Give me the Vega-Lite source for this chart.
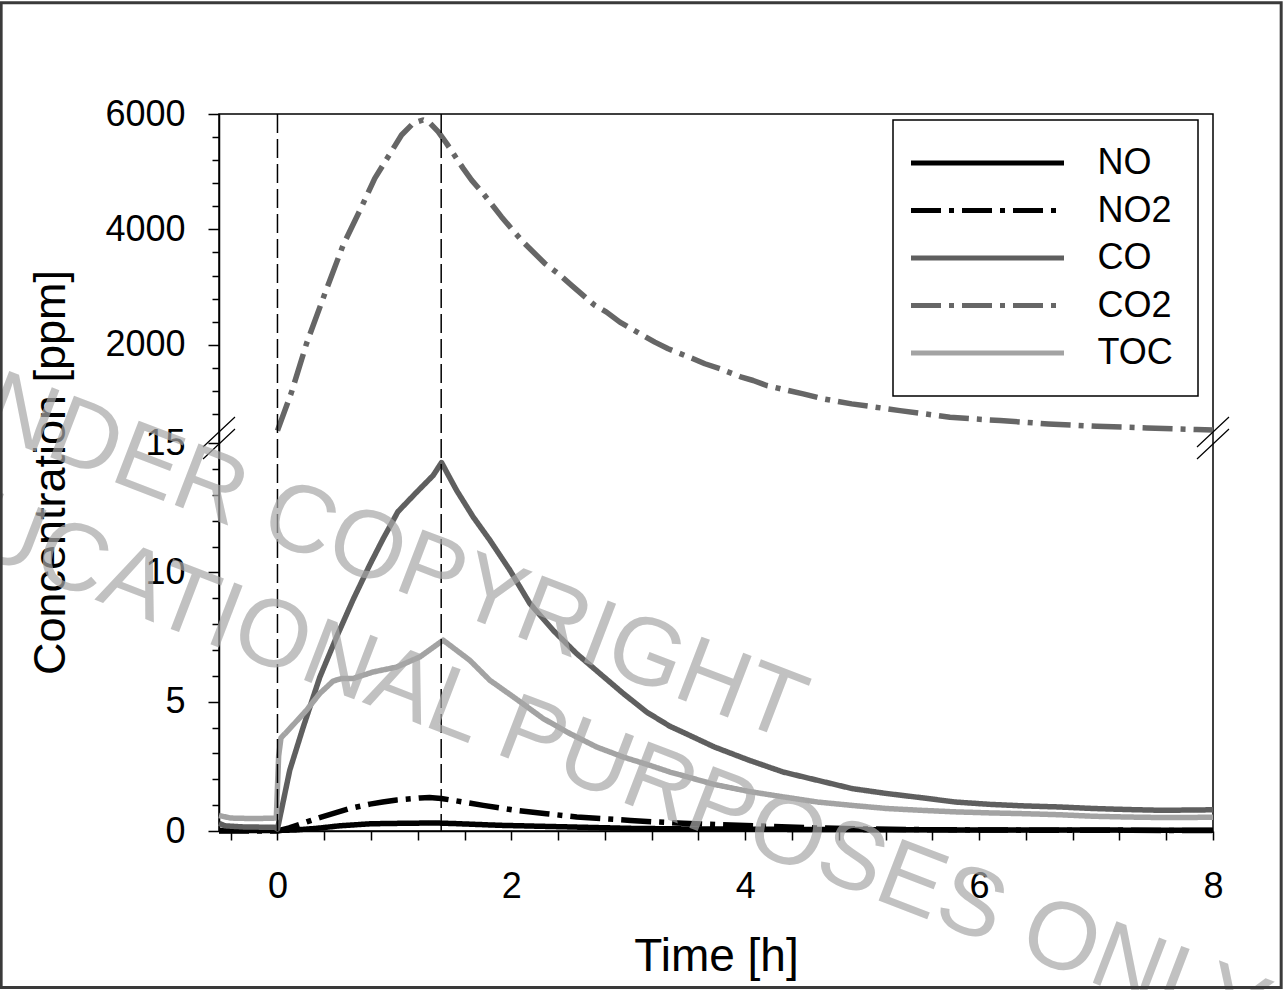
{
  "$schema": "https://vega.github.io/schema/vega-lite/v6.json",
  "width": 994,
  "height": 717,
  "autosize": {"type": "none"},
  "padding": {"left": 219, "top": 114, "right": 71, "bottom": 159},
  "background": "white",
  "config": {
    "font": "Liberation Sans",
    "view": {"stroke": "#000000", "strokeWidth": 1.5},
    "legend": {"strokeWidth": 1.5},
    "axis": {
      "grid": false,
      "labelFont": "Liberation Sans",
      "labelFontSize": 36,
      "labelColor": "#000000",
      "tickColor": "#000000",
      "tickWidth": 1.5,
      "domainColor": "#000000",
      "domainWidth": 1.5,
      "titleFont": "Liberation Sans",
      "titleFontWeight": "normal",
      "titleColor": "#000000"
    }
  },
  "datasets": {
    "d": [
      {"series": "NO", "time": -0.5, "conc": 0.02},
      {"series": "NO", "time": 0, "conc": 0.02},
      {"series": "NO", "time": 0.15, "conc": 0.04},
      {"series": "NO", "time": 0.33, "conc": 0.1},
      {"series": "NO", "time": 0.53, "conc": 0.2},
      {"series": "NO", "time": 0.8, "conc": 0.28},
      {"series": "NO", "time": 1.1, "conc": 0.3},
      {"series": "NO", "time": 1.35, "conc": 0.31},
      {"series": "NO", "time": 1.5, "conc": 0.29},
      {"series": "NO", "time": 1.9, "conc": 0.22},
      {"series": "NO", "time": 2.47, "conc": 0.16},
      {"series": "NO", "time": 3.04, "conc": 0.1},
      {"series": "NO", "time": 3.5, "conc": 0.08},
      {"series": "NO", "time": 4.5, "conc": 0.06},
      {"series": "NO", "time": 6, "conc": 0.04},
      {"series": "NO", "time": 8, "conc": 0.03},

      {"series": "NO2", "time": -0.5, "conc": 0.0},
      {"series": "NO2", "time": 0, "conc": 0.0},
      {"series": "NO2", "time": 0.1, "conc": 0.12},
      {"series": "NO2", "time": 0.25, "conc": 0.35},
      {"series": "NO2", "time": 0.36, "conc": 0.52},
      {"series": "NO2", "time": 0.48, "conc": 0.68},
      {"series": "NO2", "time": 0.6, "conc": 0.85},
      {"series": "NO2", "time": 0.79, "conc": 1.04},
      {"series": "NO2", "time": 0.9, "conc": 1.12},
      {"series": "NO2", "time": 1.02, "conc": 1.2},
      {"series": "NO2", "time": 1.22, "conc": 1.28},
      {"series": "NO2", "time": 1.3, "conc": 1.3},
      {"series": "NO2", "time": 1.4, "conc": 1.26},
      {"series": "NO2", "time": 1.59, "conc": 1.12},
      {"series": "NO2", "time": 1.76, "conc": 0.99},
      {"series": "NO2", "time": 2.04, "conc": 0.8},
      {"series": "NO2", "time": 2.3, "conc": 0.67},
      {"series": "NO2", "time": 2.56, "conc": 0.54},
      {"series": "NO2", "time": 2.8, "conc": 0.47},
      {"series": "NO2", "time": 3.02, "conc": 0.41},
      {"series": "NO2", "time": 3.24, "conc": 0.35},
      {"series": "NO2", "time": 3.47, "conc": 0.3},
      {"series": "NO2", "time": 3.8, "conc": 0.24},
      {"series": "NO2", "time": 4.2, "conc": 0.18},
      {"series": "NO2", "time": 4.6, "conc": 0.12},
      {"series": "NO2", "time": 5.0, "conc": 0.08},
      {"series": "NO2", "time": 5.6, "conc": 0.05},
      {"series": "NO2", "time": 6.5, "conc": 0.03},
      {"series": "NO2", "time": 8, "conc": 0.02},

      {"series": "CO", "time": -0.5, "conc": 0.3},
      {"series": "CO", "time": -0.45, "conc": 0.2},
      {"series": "CO", "time": -0.3, "conc": 0.16},
      {"series": "CO", "time": -0.02, "conc": 0.14},
      {"series": "CO", "time": 0.0, "conc": 0.08},
      {"series": "CO", "time": 0.105, "conc": 2.35},
      {"series": "CO", "time": 0.219, "conc": 4.0},
      {"series": "CO", "time": 0.362, "conc": 5.95},
      {"series": "CO", "time": 0.505, "conc": 7.5},
      {"series": "CO", "time": 0.647, "conc": 8.95},
      {"series": "CO", "time": 0.79, "conc": 10.3},
      {"series": "CO", "time": 0.903, "conc": 11.3},
      {"series": "CO", "time": 1.03, "conc": 12.35},
      {"series": "CO", "time": 1.189, "conc": 13.1},
      {"series": "CO", "time": 1.331, "conc": 13.75},
      {"series": "CO", "time": 1.403, "conc": 14.25},
      {"series": "CO", "time": 1.531, "conc": 13.18},
      {"series": "CO", "time": 1.673, "conc": 12.15},
      {"series": "CO", "time": 1.816, "conc": 11.25},
      {"series": "CO", "time": 1.987, "conc": 10.09},
      {"series": "CO", "time": 2.158, "conc": 8.8},
      {"series": "CO", "time": 2.358, "conc": 7.76},
      {"series": "CO", "time": 2.558, "conc": 6.86},
      {"series": "CO", "time": 2.757, "conc": 6.09},
      {"series": "CO", "time": 2.957, "conc": 5.32},
      {"series": "CO", "time": 3.157, "conc": 4.6},
      {"series": "CO", "time": 3.356, "conc": 4.05},
      {"series": "CO", "time": 3.5, "conc": 3.75},
      {"series": "CO", "time": 3.736, "conc": 3.25},
      {"series": "CO", "time": 4.031, "conc": 2.74},
      {"series": "CO", "time": 4.325, "conc": 2.28},
      {"series": "CO", "time": 4.619, "conc": 1.96},
      {"series": "CO", "time": 4.914, "conc": 1.64},
      {"series": "CO", "time": 5.209, "conc": 1.45},
      {"series": "CO", "time": 5.503, "conc": 1.29},
      {"series": "CO", "time": 5.798, "conc": 1.12},
      {"series": "CO", "time": 6.093, "conc": 1.03},
      {"series": "CO", "time": 6.387, "conc": 0.97},
      {"series": "CO", "time": 6.682, "conc": 0.93},
      {"series": "CO", "time": 6.976, "conc": 0.87},
      {"series": "CO", "time": 7.271, "conc": 0.83},
      {"series": "CO", "time": 7.566, "conc": 0.8},
      {"series": "CO", "time": 8, "conc": 0.82},

      {"series": "CO2", "time": 0, "conc": 510},
      {"series": "CO2", "time": 0.12, "conc": 1176},
      {"series": "CO2", "time": 0.248, "conc": 2017},
      {"series": "CO2", "time": 0.405, "conc": 2886},
      {"series": "CO2", "time": 0.561, "conc": 3725},
      {"series": "CO2", "time": 0.719, "conc": 4390},
      {"series": "CO2", "time": 0.832, "conc": 4883},
      {"series": "CO2", "time": 0.946, "conc": 5258},
      {"series": "CO2", "time": 1.061, "conc": 5635},
      {"series": "CO2", "time": 1.16, "conc": 5838},
      {"series": "CO2", "time": 1.245, "conc": 5896},
      {"series": "CO2", "time": 1.3, "conc": 5850},
      {"series": "CO2", "time": 1.374, "conc": 5693},
      {"series": "CO2", "time": 1.446, "conc": 5491},
      {"series": "CO2", "time": 1.588, "conc": 5057},
      {"series": "CO2", "time": 1.66, "conc": 4854},
      {"series": "CO2", "time": 1.759, "conc": 4623},
      {"series": "CO2", "time": 1.916, "conc": 4216},
      {"series": "CO2", "time": 2.0, "conc": 4015},
      {"series": "CO2", "time": 2.1, "conc": 3782},
      {"series": "CO2", "time": 2.287, "conc": 3407},
      {"series": "CO2", "time": 2.4, "conc": 3233},
      {"series": "CO2", "time": 2.515, "conc": 3030},
      {"series": "CO2", "time": 2.714, "conc": 2682},
      {"series": "CO2", "time": 2.814, "conc": 2566},
      {"series": "CO2", "time": 2.928, "conc": 2392},
      {"series": "CO2", "time": 3.127, "conc": 2161},
      {"series": "CO2", "time": 3.227, "conc": 2045},
      {"series": "CO2", "time": 3.341, "conc": 1930},
      {"series": "CO2", "time": 3.555, "conc": 1757},
      {"series": "CO2", "time": 3.655, "conc": 1670},
      {"series": "CO2", "time": 3.784, "conc": 1583},
      {"series": "CO2", "time": 3.969, "conc": 1437},
      {"series": "CO2", "time": 4.068, "conc": 1380},
      {"series": "CO2", "time": 4.183, "conc": 1293},
      {"series": "CO2", "time": 4.368, "conc": 1206},
      {"series": "CO2", "time": 4.496, "conc": 1149},
      {"series": "CO2", "time": 4.667, "conc": 1062},
      {"series": "CO2", "time": 4.91, "conc": 975},
      {"series": "CO2", "time": 5.323, "conc": 858},
      {"series": "CO2", "time": 5.751, "conc": 742},
      {"series": "CO2", "time": 6.179, "conc": 685},
      {"series": "CO2", "time": 6.592, "conc": 627},
      {"series": "CO2", "time": 7.006, "conc": 586},
      {"series": "CO2", "time": 7.434, "conc": 558},
      {"series": "CO2", "time": 7.861, "conc": 529},
      {"series": "CO2", "time": 8, "conc": 520},

      {"series": "TOC", "time": -0.5, "conc": 0.6},
      {"series": "TOC", "time": -0.4, "conc": 0.5},
      {"series": "TOC", "time": -0.2, "conc": 0.48},
      {"series": "TOC", "time": -0.01, "conc": 0.5},
      {"series": "TOC", "time": 0.01, "conc": 2.9},
      {"series": "TOC", "time": 0.03, "conc": 3.6},
      {"series": "TOC", "time": 0.105, "conc": 3.96},
      {"series": "TOC", "time": 0.248, "conc": 4.67},
      {"series": "TOC", "time": 0.362, "conc": 5.32},
      {"series": "TOC", "time": 0.476, "conc": 5.8},
      {"series": "TOC", "time": 0.55, "conc": 5.9},
      {"series": "TOC", "time": 0.647, "conc": 5.9},
      {"series": "TOC", "time": 0.818, "conc": 6.15},
      {"series": "TOC", "time": 1.018, "conc": 6.34},
      {"series": "TOC", "time": 1.217, "conc": 6.73},
      {"series": "TOC", "time": 1.417, "conc": 7.38},
      {"series": "TOC", "time": 1.645, "conc": 6.6},
      {"series": "TOC", "time": 1.816, "conc": 5.83},
      {"series": "TOC", "time": 2.044, "conc": 5.1},
      {"series": "TOC", "time": 2.272, "conc": 4.35},
      {"series": "TOC", "time": 2.5, "conc": 3.77},
      {"series": "TOC", "time": 2.729, "conc": 3.25},
      {"series": "TOC", "time": 2.957, "conc": 2.86},
      {"series": "TOC", "time": 3.185, "conc": 2.54},
      {"series": "TOC", "time": 3.356, "conc": 2.28},
      {"series": "TOC", "time": 3.5, "conc": 2.1},
      {"series": "TOC", "time": 3.736, "conc": 1.8},
      {"series": "TOC", "time": 4.031, "conc": 1.53},
      {"series": "TOC", "time": 4.325, "conc": 1.32},
      {"series": "TOC", "time": 4.619, "conc": 1.12},
      {"series": "TOC", "time": 4.914, "conc": 0.99},
      {"series": "TOC", "time": 5.209, "conc": 0.87},
      {"series": "TOC", "time": 5.503, "conc": 0.8},
      {"series": "TOC", "time": 5.798, "conc": 0.74},
      {"series": "TOC", "time": 6.093, "conc": 0.7},
      {"series": "TOC", "time": 6.387, "conc": 0.67},
      {"series": "TOC", "time": 6.682, "conc": 0.63},
      {"series": "TOC", "time": 6.976, "conc": 0.57},
      {"series": "TOC", "time": 7.271, "conc": 0.54},
      {"series": "TOC", "time": 7.566, "conc": 0.52},
      {"series": "TOC", "time": 8, "conc": 0.53}
    ]
  },
  "layer": [
    {
      "data": {"name": "d"},
      "mark": {"type": "line", "strokeWidth": 5.5, "strokeCap": "butt", "strokeJoin": "round"},
      "encoding": {
        "x": {
          "field": "time", "type": "quantitative",
          "scale": {"domain": [-0.5, 8], "nice": false, "zero": false},
          "axis": {
            "title": "Time [h]",
            "titleFontSize": 46,
            "values": [-0.4, 0, 0.4, 0.8, 1.2, 1.6, 2, 2.4, 2.8, 3.2, 3.6, 4, 4.4, 4.8, 5.2, 5.6, 6, 6.4, 6.8, 7.2, 7.6, 8],
            "tickCount": 200,
            "tickMinStep": 0.01,
            "labelExpr": "indexof([0,2,4,6,8], datum.value) >= 0 ? '' + datum.value : ''",
            "tickSize": 9,
            "labelPadding": 29,
            "labelFlush": false,
            "labelOverlap": false,
            "titleBaseline": "alphabetic",
            "titleY": 139
          }
        },
        "y": {
          "field": "conc", "type": "quantitative",
          "scale": {"type": "linear", "domain": [0, 15.2, 383, 6000], "range": [717, 324, 324, 0], "nice": false, "zero": false},
          "axis": {
            "title": "Concentration [ppm]",
            "titleFontSize": 45,
            "values": [0, 1, 2, 3, 4, 5, 6, 7, 8, 9, 10, 11, 12, 13, 14, 15, 800, 1200, 1600, 2000, 2400, 2800, 3200, 3600, 4000, 4400, 4800, 5200, 5600, 6000],
            "tickCount": 200,
            "format": "d",
            "labelExpr": "indexof([0,5,10,15,2000,4000,6000], datum.value) >= 0 ? datum.label : ''",
            "tickSize": 11,
            "tickDash": {"condition": {"test": "indexof([0,5,10,15,2000,4000,6000], datum.value) < 0", "value": [7, 40]}, "value": [1, 0]},
            "labelPadding": 23,
            "labelOverlap": false,
            "labelFlush": false,
            "titleBaseline": "alphabetic",
            "titleX": -155,
            "titleY": 358
          }
        },
        "color": {
          "field": "series", "type": "nominal",
          "scale": {"domain": ["NO", "NO2", "CO", "CO2", "TOC"], "range": ["#000000", "#000000", "#5f5f5f", "#666666", "#a3a3a3"]},
          "legend": {
            "title": null, "orient": "none", "legendX": 674, "legendY": 6,
            "padding": 25, "strokeColor": "#000000", "fillColor": "#ffffff",
            "symbolType": "M-15.3,0H15.3", "symbolSize": 100, "symbolStrokeWidth": 5,
            "symbolOffset": 51.5, "labelOffset": 92, "labelFontSize": 36, "labelFont": "Liberation Sans",
            "labelColor": "#000000", "rowPadding": 11.5
          }
        },
        "strokeDash": {
          "field": "series", "type": "nominal",
          "scale": {"domain": ["NO", "NO2", "CO", "CO2", "TOC"], "range": [[1, 0], [30, 8, 5, 8], [1, 0], [30, 8, 5, 8], [1, 0]]},
          "legend": {
            "title": null, "orient": "none", "legendX": 674, "legendY": 6,
            "padding": 25, "strokeColor": "#000000", "fillColor": "#ffffff",
            "symbolType": "M-15.3,0H15.3", "symbolSize": 100, "symbolStrokeWidth": 5,
            "symbolOffset": 51.5, "labelOffset": 92, "labelFontSize": 36, "labelFont": "Liberation Sans",
            "labelColor": "#000000", "rowPadding": 11.5
          }
        }
      }
    },
    {
      "data": {"values": [{"time": 0}, {"time": 1.4}]},
      "mark": {"type": "rule", "stroke": "#000000", "strokeWidth": 1.5, "strokeDash": [19, 6]},
      "encoding": {"x": {"field": "time", "type": "quantitative"}}
    },
    {
      "data": {"values": [{"time": -0.5, "conc": 383}, {"time": 8, "conc": 383}]},
      "mark": {"type": "point", "shape": "M-16,9L16,-21M-16,21L16,-9", "size": 4, "filled": false, "stroke": "#000000", "strokeWidth": 1.2, "opacity": 1, "clip": false},
      "encoding": {
        "x": {"field": "time", "type": "quantitative"},
        "y": {"field": "conc", "type": "quantitative"}
      }
    },
    {
      "data": {"values": [
        {"time": 4.382, "conc": 3.47, "txt": "UNDER COPYRIGHT"},
        {"time": 8.343, "conc": -8.25, "txt": "EDUCATIONAL PURPOSES ONLY"}
      ]},
      "mark": {"type": "text", "font": "Liberation Sans", "fontSize": 96, "angle": 21, "align": "right", "baseline": "alphabetic", "fill": "#a8a8a8", "opacity": 0.7, "clip": false},
      "encoding": {
        "x": {"field": "time", "type": "quantitative"},
        "y": {"field": "conc", "type": "quantitative"},
        "text": {"field": "txt", "type": "nominal"}
      }
    },
    {
      "data": {"values": [{"time": -2.363, "time2": 8.583, "conc": 7928, "conc2": -6.05}]},
      "mark": {"type": "rect", "fill": null, "fillOpacity": 0, "stroke": "#3a3a3a", "strokeWidth": 3, "clip": false},
      "encoding": {
        "x": {"field": "time", "type": "quantitative"},
        "x2": {"field": "time2"},
        "y": {"field": "conc", "type": "quantitative"},
        "y2": {"field": "conc2"}
      }
    }
  ]
}
